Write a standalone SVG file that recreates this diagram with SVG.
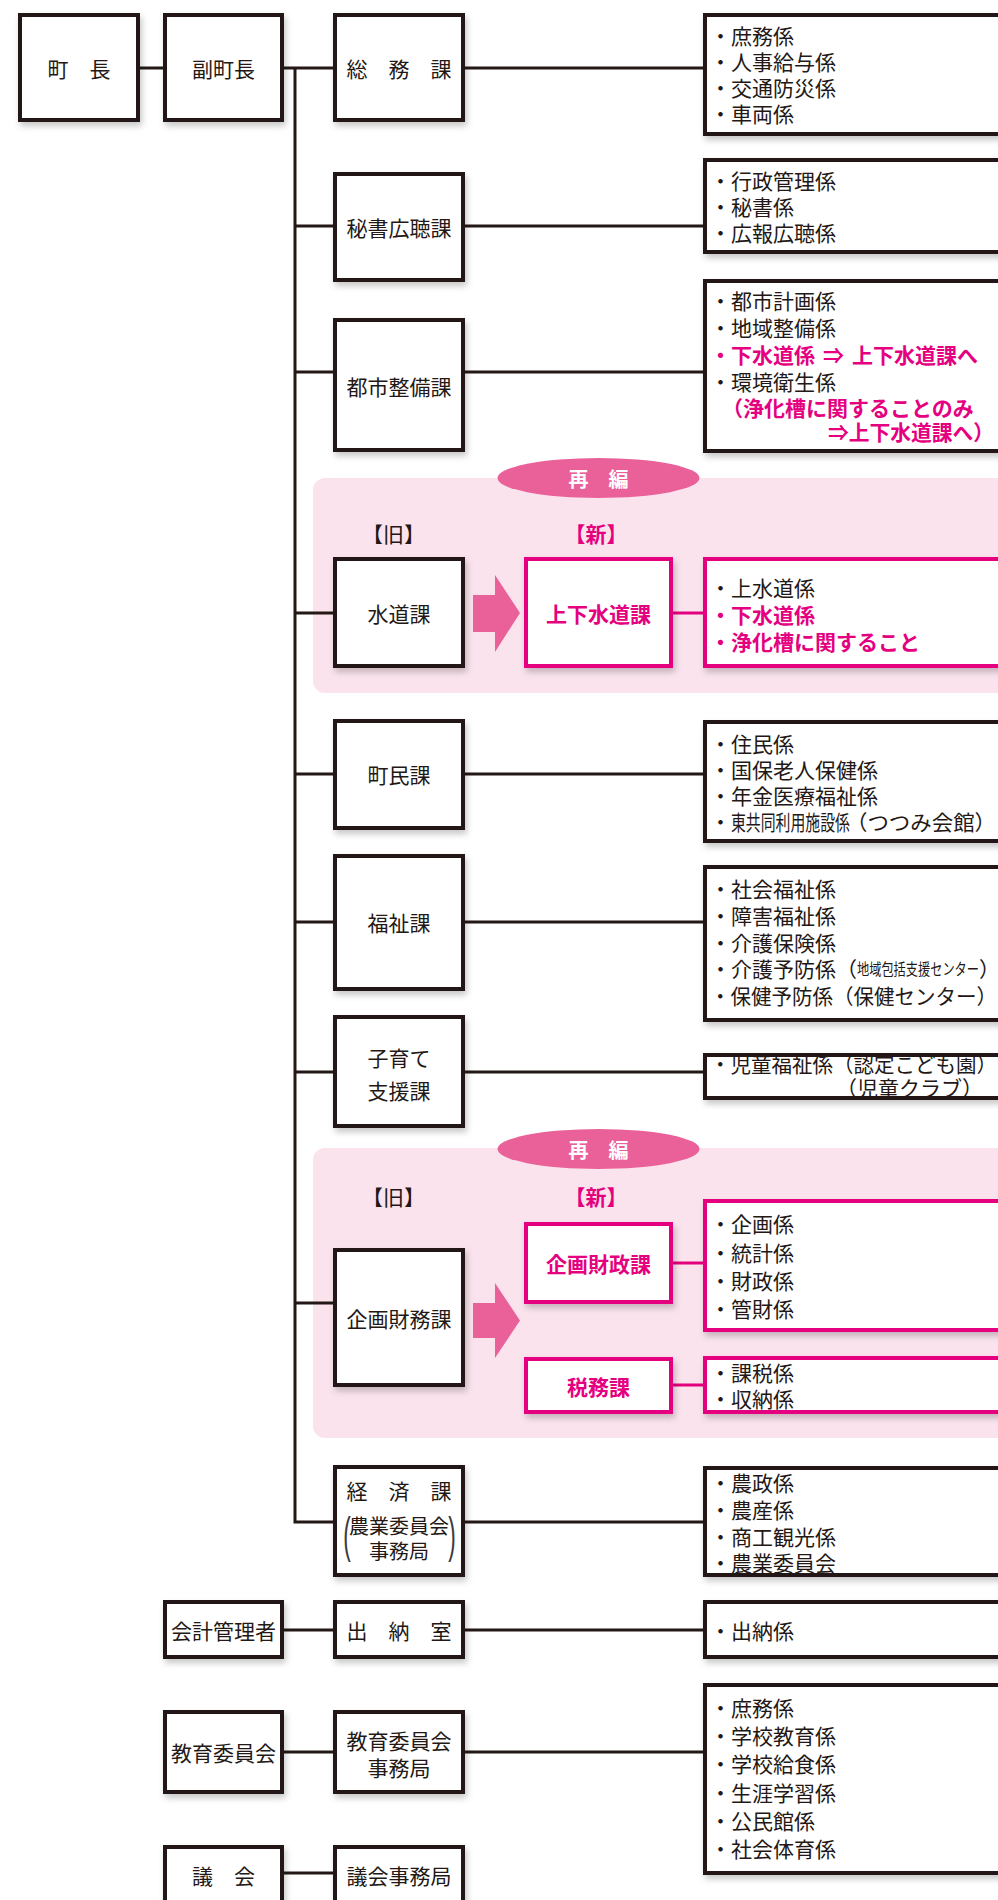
<svg xmlns="http://www.w3.org/2000/svg" width="998" height="1900" viewBox="0 0 998 1900">
<defs>
<filter id="sh" x="-10%" y="-10%" width="125%" height="135%">
<feDropShadow dx="2" dy="4" stdDeviation="3" flood-color="#000" flood-opacity="0.22"/>
</filter>
<style>
.box{fill:#fff;stroke:#231815;stroke-width:4;filter:url(#sh)}
.pbox{fill:#fff;stroke:#e4007f;stroke-width:4;filter:url(#sh)}
.ln{stroke:#231815;stroke-width:3;fill:none}
.pln{stroke:#e4007f;stroke-width:3;fill:none}
.bg{fill:#fae3ed}
.ell{fill:#ea619a}
text{font-family:"Noto Sans CJK JP","Noto Sans CJK SC",sans-serif;font-size:21px;fill:#231815;dominant-baseline:central}
.c{text-anchor:middle}
.p{fill:#e4007f;font-weight:700}
.w{fill:#fff;font-weight:700;font-size:20px}
.par{font-family:"Liberation Sans",sans-serif;font-size:50px;fill:#3a3a3a;dominant-baseline:alphabetic}
</style>
</defs>
<rect width="998" height="1900" fill="#fff"/>

<g id="reorg1">
<rect class="bg" x="313" y="478" width="700" height="215" rx="12"/>
<ellipse class="ell" cx="598.5" cy="478" rx="101" ry="20"/>
<text class="c w" x="598.5" y="478">再　編</text>
<text class="c" x="393.5" y="533">【旧】</text>
<text class="c p" x="596" y="533">【新】</text>
<polygon class="ell" points="473,595 495,595 495,575 520,613 495,652 495,632 473,632"/>
</g>
<g id="reorg2">
<rect class="bg" x="313" y="1148" width="700" height="290" rx="12"/>
<ellipse class="ell" cx="598.5" cy="1149" rx="101" ry="20"/>
<text class="c w" x="598.5" y="1149">再　編</text>
<text class="c" x="393.5" y="1196">【旧】</text>
<text class="c p" x="596" y="1196">【新】</text>
<polygon class="ell" points="473,1303 495,1303 495,1283 520,1320.5 495,1358 495,1338 473,1338"/>
</g>

<g id="connectors">
<path class="ln" d="M140 68H165M282 68H335M295 68V1522H335M295 226H335M295 372H335M295 613H335M295 774H335M295 922H335M295 1072H335M295 1303H335"/>
<path class="ln" d="M463 68H705M463 226H705M463 372H705M463 774H705M463 922H705M463 1072H705M463 1522H705M463 1630H705M463 1752H705"/>
<path class="ln" d="M282 1630H335M282 1752H335M282 1873H335"/>
<path class="pln" d="M671 613H705M671 1263H705M671 1385H705"/>
</g>

<g id="n-chocho"><rect class="box" x="20" y="15" width="118" height="105"/><text class="c" x="79" y="68">町　長</text></g>
<g id="n-fukuchocho"><rect class="box" x="165" y="15" width="117" height="105"/><text class="c" x="223.5" y="68">副町長</text></g>
<g id="n-somu"><rect class="box" x="335" y="15" width="128" height="105"/><text class="c" x="399" y="68">総　務　課</text></g>
<g id="n-hisho"><rect class="box" x="335" y="174" width="128" height="106"/><text class="c" x="399" y="227">秘書広聴課</text></g>
<g id="n-toshi"><rect class="box" x="335" y="320" width="128" height="130"/><text class="c" x="399" y="386">都市整備課</text></g>
<g id="n-suido"><rect class="box" x="335" y="559" width="128" height="107"/><text class="c" x="399" y="613">水道課</text></g>
<g id="n-joge"><rect class="pbox" x="526" y="559" width="145" height="107"/><text class="c p" x="598.5" y="613">上下水道課</text></g>
<g id="n-chomin"><rect class="box" x="335" y="721" width="128" height="107"/><text class="c" x="399" y="774">町民課</text></g>
<g id="n-fukushi"><rect class="box" x="335" y="856" width="128" height="133"/><text class="c" x="399" y="922">福祉課</text></g>
<g id="n-kosodate"><rect class="box" x="335" y="1017" width="128" height="109"/><text class="c" x="399" y="1057">子育て</text><text class="c" x="399" y="1090">支援課</text></g>
<g id="n-kikakuzaimu"><rect class="box" x="335" y="1250" width="128" height="135"/><text class="c" x="399" y="1318">企画財務課</text></g>
<g id="n-kikakuzaisei"><rect class="pbox" x="526" y="1224" width="145" height="78"/><text class="c p" x="598.5" y="1263">企画財政課</text></g>
<g id="n-zeimu"><rect class="pbox" x="526" y="1359" width="145" height="53"/><text class="c p" x="598.5" y="1386">税務課</text></g>
<g id="n-keizai"><rect class="box" x="335" y="1467" width="128" height="108"/>
<text class="c" x="399" y="1490">経　済　課</text>
<text class="c" x="399" y="1525" style="font-size:20px">農業委員会</text>
<text class="c" x="399" y="1550" style="font-size:20px">事務局</text>
<text class="par c" transform="translate(347,1551.5) scale(0.45,1)">(</text>
<text class="par c" transform="translate(452,1551.5) scale(0.45,1)">)</text>
</g>
<g id="n-kaikei"><rect class="box" x="165" y="1602" width="117" height="55"/><text class="c" x="223.5" y="1630">会計管理者</text></g>
<g id="n-suito"><rect class="box" x="335" y="1602" width="128" height="55"/><text class="c" x="399" y="1630">出　納　室</text></g>
<g id="n-kyoiku"><rect class="box" x="165" y="1712" width="117" height="80"/><text class="c" x="223.5" y="1752">教育委員会</text></g>
<g id="n-kyoikujimu"><rect class="box" x="335" y="1712" width="128" height="80"/><text class="c" x="399" y="1740">教育委員会</text><text class="c" x="399" y="1767">事務局</text></g>
<g id="n-gikai"><rect class="box" x="165" y="1847" width="117" height="70"/><text class="c" x="223.5" y="1875">議　会</text></g>
<g id="n-gikaijimu"><rect class="box" x="335" y="1847" width="128" height="70"/><text class="c" x="399" y="1875">議会事務局</text></g>

<g id="l-somu"><rect class="box" x="705" y="15" width="320" height="119"/>
<text x="710" y="35">・庶務係</text><text x="710" y="61">・人事給与係</text><text x="710" y="87">・交通防災係</text><text x="710" y="113">・車両係</text></g>
<g id="l-hisho"><rect class="box" x="705" y="160" width="320" height="92"/>
<text x="710" y="180">・行政管理係</text><text x="710" y="206">・秘書係</text><text x="710" y="232">・広報広聴係</text></g>
<g id="l-toshi"><rect class="box" x="705" y="281" width="320" height="170"/>
<text x="710" y="300">・都市計画係</text><text x="710" y="327">・地域整備係</text>
<text class="p" x="710" y="354">・下水道係<tspan x="823">⇒</tspan><tspan x="852">上下水道課へ</tspan></text>
<text x="710" y="381">・環境衛生係</text>
<text class="p" x="722" y="407">（浄化槽に関することのみ</text>
<text class="p" x="828" y="431" textLength="166" lengthAdjust="spacingAndGlyphs">⇒上下水道課へ）</text></g>
<g id="l-joge"><rect class="pbox" x="705" y="559" width="320" height="107"/>
<text x="710" y="587">・上水道係</text><text class="p" x="710" y="614">・下水道係</text><text class="p" x="710" y="641">・浄化槽に関すること</text></g>
<g id="l-chomin"><rect class="box" x="705" y="722" width="320" height="119"/>
<text x="710" y="743">・住民係</text><text x="710" y="769">・国保老人保健係</text><text x="710" y="795">・年金医療福祉係</text>
<text x="710" y="821">・<tspan x="731" textLength="119" lengthAdjust="spacingAndGlyphs">東共同利用施設係</tspan><tspan x="846" textLength="150" lengthAdjust="spacingAndGlyphs">（つつみ会館）</tspan></text></g>
<g id="l-fukushi"><rect class="box" x="705" y="867" width="320" height="153"/>
<text x="710" y="888">・社会福祉係</text><text x="710" y="915">・障害福祉係</text><text x="710" y="942">・介護保険係</text>
<text x="710" y="968">・介護予防係（<tspan x="857" style="font-size:16px" textLength="122" lengthAdjust="spacingAndGlyphs">地域包括支援センター</tspan><tspan x="979">）</tspan></text>
<text x="710" y="995" textLength="287" lengthAdjust="spacingAndGlyphs">・保健予防係（保健センター）</text></g>
<g id="l-kosodate"><rect class="box" x="705" y="1055" width="320" height="43"/>
<text x="710" y="1063" textLength="287" lengthAdjust="spacingAndGlyphs">・児童福祉係（認定こども園）</text><text x="836" y="1087">（児童クラブ）</text></g>
<g id="l-kikakuzaisei"><rect class="pbox" x="705" y="1201" width="320" height="129"/>
<text x="710" y="1223">・企画係</text><text x="710" y="1252">・統計係</text><text x="710" y="1280">・財政係</text><text x="710" y="1308">・管財係</text></g>
<g id="l-zeimu"><rect class="pbox" x="705" y="1358" width="320" height="54"/>
<text x="710" y="1372">・課税係</text><text x="710" y="1398">・収納係</text></g>
<g id="l-keizai"><rect class="box" x="705" y="1468" width="320" height="107"/>
<text x="710" y="1482">・農政係</text><text x="710" y="1509">・農産係</text><text x="710" y="1536">・商工観光係</text><text x="710" y="1562">・農業委員会</text></g>
<g id="l-suito"><rect class="box" x="705" y="1602" width="320" height="55"/>
<text x="710" y="1630">・出納係</text></g>
<g id="l-kyoiku"><rect class="box" x="705" y="1685" width="320" height="188"/>
<text x="710" y="1707">・庶務係</text><text x="710" y="1735">・学校教育係</text><text x="710" y="1763">・学校給食係</text><text x="710" y="1792">・生涯学習係</text><text x="710" y="1820">・公民館係</text><text x="710" y="1848">・社会体育係</text></g>
</svg>
